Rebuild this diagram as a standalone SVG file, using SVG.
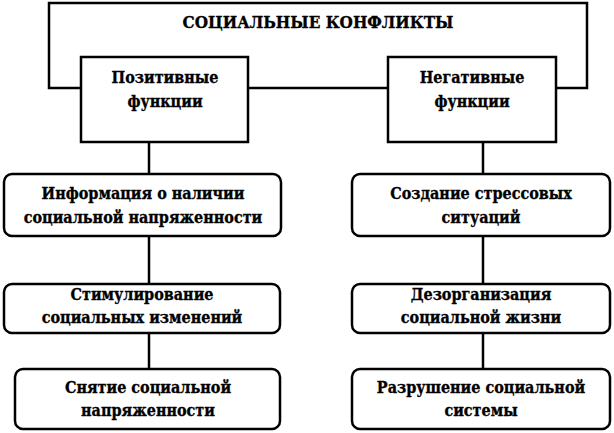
<svg xmlns="http://www.w3.org/2000/svg" width="614" height="433" viewBox="0 0 614 433">
<style>
.sq{fill:#fff;stroke:#000;stroke-width:2.5}
.rd{fill:#fff;stroke:#000;stroke-width:2.5}
.t{font-family:'DejaVu Serif Condensed','DejaVu Serif','Liberation Serif',serif;font-weight:bold;font-size:16px;fill:#000;stroke:#000;stroke-width:0.3;text-anchor:middle;dominant-baseline:central}
.h{font-size:17px}
.c{stroke:#000;stroke-width:2.5;fill:none}
</style>
<rect width="614" height="433" fill="#fff"/>
<g id="root">
<rect class="sq" x="49" y="3" width="538" height="85"/>
<text class="t h" x="318" y="22">СОЦИАЛЬНЫЕ КОНФЛИКТЫ</text>
</g>
<g id="connectors">
<line class="c" x1="149" y1="142" x2="149" y2="174"/>
<line class="c" x1="149" y1="236" x2="149" y2="284"/>
<line class="c" x1="149" y1="333" x2="149" y2="369"/>
<line class="c" x1="483" y1="142" x2="483" y2="174"/>
<line class="c" x1="483" y1="236" x2="483" y2="284"/>
<line class="c" x1="483" y1="333" x2="483" y2="369"/>
</g>
<g id="positive">
<rect class="sq" x="81" y="57" width="167" height="85"/>
<text class="t" x="165" y="77">Позитивные</text>
<text class="t" x="165" y="101">функции</text>
</g>
<g id="negative">
<rect class="sq" x="388" y="57" width="168" height="85"/>
<text class="t" x="472" y="77">Негативные</text>
<text class="t" x="472" y="101">функции</text>
</g>
<g id="p1">
<rect class="rd" x="4" y="174" width="277" height="62" rx="8"/>
<text class="t" x="143" y="193">Информация о наличии</text>
<text class="t" x="143" y="217">социальной напряженности</text>
</g>
<g id="p2">
<rect class="rd" x="4" y="284" width="276" height="49" rx="8"/>
<text class="t" x="142" y="294">Стимулирование</text>
<text class="t" x="142" y="317">социальных изменений</text>
</g>
<g id="p3">
<rect class="rd" x="15" y="369" width="265" height="60" rx="8"/>
<text class="t" x="148" y="387">Снятие социальной</text>
<text class="t" x="148" y="410">напряженности</text>
</g>
<g id="n1">
<rect class="rd" x="352" y="174" width="258" height="62" rx="8"/>
<text class="t" x="481" y="193">Создание стрессовых</text>
<text class="t" x="481" y="217">ситуаций</text>
</g>
<g id="n2">
<rect class="rd" x="352" y="284" width="258" height="49" rx="8"/>
<text class="t" x="481" y="294">Дезорганизация</text>
<text class="t" x="481" y="317">социальной жизни</text>
</g>
<g id="n3">
<rect class="rd" x="352" y="369" width="258" height="60" rx="8"/>
<text class="t" x="481" y="387">Разрушение социальной</text>
<text class="t" x="481" y="410">системы</text>
</g>
</svg>
